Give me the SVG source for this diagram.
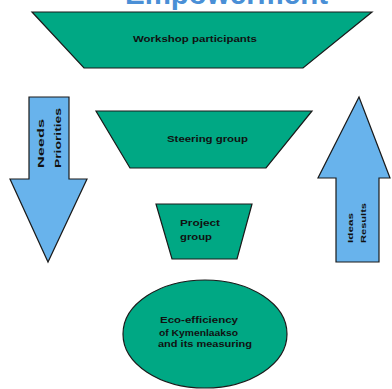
<svg xmlns="http://www.w3.org/2000/svg" width="392" height="389" viewBox="0 0 392 389">
<style>
.g{fill:#00a884;stroke:#1a1a1a;stroke-width:1.2}
.b{fill:#68b3ec;stroke:#1a1a1a;stroke-width:1.2}
.t{font-family:"Liberation Sans",Arial,sans-serif;font-size:9px;font-weight:bold;fill:#111}
.title{font-family:"Liberation Sans",Arial,sans-serif;font-size:30px;font-weight:bold;fill:#4a8fd6}
</style>
<rect width="392" height="389" fill="#fff"/>
<text class="title" x="125" y="4" textLength="203" lengthAdjust="spacingAndGlyphs">Empowerment</text>
<g id="workshop">
<polygon class="g" points="32,12 372,12 303,68 84,68"/>
<text class="t" x="133" y="42" textLength="124" lengthAdjust="spacingAndGlyphs">Workshop participants</text>
</g>
<g id="steering">
<polygon class="g" points="96,111 312,111 266,168 130,168"/>
<text class="t" x="167" y="142" textLength="81" lengthAdjust="spacingAndGlyphs">Steering group</text>
</g>
<g id="project">
<polygon class="g" points="156,204 252,204 237,259 172,259"/>
<text class="t" x="180" y="226" textLength="40" lengthAdjust="spacingAndGlyphs">Project</text>
<text class="t" x="180" y="240" textLength="32" lengthAdjust="spacingAndGlyphs">group</text>
</g>
<g id="eco">
<ellipse class="g" cx="205" cy="334" rx="82" ry="54"/>
<text class="t" x="160" y="323" textLength="78" lengthAdjust="spacingAndGlyphs">Eco-efficiency</text>
<text class="t" x="159" y="336" textLength="79" lengthAdjust="spacingAndGlyphs">of Kymenlaakso</text>
<text class="t" x="158" y="347" textLength="94" lengthAdjust="spacingAndGlyphs">and its measuring</text>
</g>
<g id="needs">
<polygon class="b" points="29,97 69,97 69,179 87,179 48,262 10,179 29,179"/>
<text class="t" transform="translate(44,168) rotate(-90)" textLength="49" lengthAdjust="spacingAndGlyphs">Needs</text>
<text class="t" transform="translate(61,168) rotate(-90)" textLength="60" lengthAdjust="spacingAndGlyphs">Priorities</text>
</g>
<g id="ideas">
<polygon class="b" points="359,97 390,178 379,178 379,262 336,262 336,178 318,178"/>
<text class="t" style="font-size:8px" transform="translate(353,243) rotate(-90)" textLength="30" lengthAdjust="spacingAndGlyphs">Ideas</text>
<text class="t" style="font-size:8px" transform="translate(366,243) rotate(-90)" textLength="40" lengthAdjust="spacingAndGlyphs">Results</text>
</g>
<g id="connectors"></g>
</svg>
